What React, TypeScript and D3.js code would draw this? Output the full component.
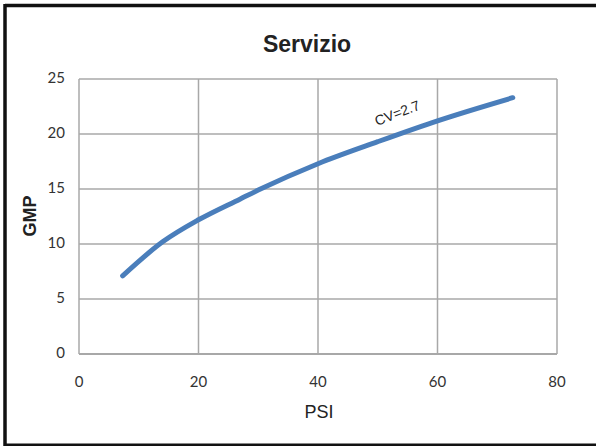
import React from "react";
import * as d3 from "d3";

const psi = [7.3, 14, 20, 27, 30, 40, 50, 60, 72.6];
const gmp = [7.1, 10.2, 12.2, 14.1, 14.9, 17.3, 19.3, 21.2, 23.3];
const xTicks = [0, 20, 40, 60, 80];
const yTicks = [0, 5, 10, 15, 20, 25];
const title = "Servizio";
const xLabel = "PSI";
const yLabel = "GMP";
const curveLabel = "CV=2.7";

export default function App() {
  const W = 596, H = 446;
  const x = d3.scaleLinear().domain([0, 80]).range([79, 557]);
  const y = d3.scaleLinear().domain([0, 25]).range([354, 79]);
  const pts = psi.map((p, i) => [p, gmp[i]] as [number, number]);
  const line = d3
    .line<[number, number]>()
    .x((d) => x(d[0]))
    .y((d) => y(d[1]))
    .curve(d3.curveMonotoneX);
  const tickFont = "Lato, 'Open Sans', sans-serif";
  return (
    <svg
      width={W}
      height={H}
      style={{ position: "absolute", left: 0, top: 0, background: "#fff" }}
    >
      <rect x={0} y={0} width={W} height={H} fill="#fff" />
      {/* frame */}
      <line x1={5} y1={5.5} x2={W} y2={5.5} stroke="#111" strokeWidth={3.5} />
      <line x1={5} y1={4} x2={5} y2={H} stroke="#111" strokeWidth={3.5} />
      <line x1={4} y1={445} x2={W} y2={445} stroke="#111" strokeWidth={3} />
      {/* grid */}
      {xTicks.map((t) => (
        <line key={"gx" + t} x1={x(t)} x2={x(t)} y1={y(25)} y2={y(0)} stroke="#a8a8a8" strokeWidth={1.5} />
      ))}
      {yTicks.map((t) => (
        <line key={"gy" + t} x1={x(0)} x2={x(80)} y1={y(t)} y2={y(t)} stroke="#a8a8a8" strokeWidth={t === 0 ? 2 : 1.5} />
      ))}
      {/* tick labels */}
      {yTicks.map((t) => (
        <text key={"ty" + t} x={65} y={y(t) + 4} textAnchor="end" fontFamily={tickFont} fontSize={15} fill="#333">
          {t}
        </text>
      ))}
      {xTicks.map((t) => (
        <text key={"tx" + t} x={x(t)} y={387} textAnchor="middle" fontFamily={tickFont} fontSize={15} fill="#333">
          {t}
        </text>
      ))}
      {/* data line */}
      <path d={line(pts) || ""} fill="none" stroke="#4a7ebb" strokeWidth={5} strokeLinecap="round" strokeLinejoin="round" />
      {/* curve label */}
      <text
        x={0}
        y={0}
        transform={`translate(377,126) rotate(-21)`}
        fontFamily="'Liberation Sans', Arial, sans-serif"
        fontSize={14}
        fill="#222"
      >
        {curveLabel}
      </text>
      {/* title */}
      <text x={307} y={52} textAnchor="middle" fontFamily="'Liberation Sans', Arial, sans-serif" fontWeight="bold" fontSize={23} fill="#222">
        {title}
      </text>
      <text x={319} y={418} textAnchor="middle" fontFamily="'Liberation Sans', Arial, sans-serif" fontSize={18} fill="#222">
        {xLabel}
      </text>
      <text
        transform={`translate(36,216) rotate(-90)`}
        textAnchor="middle"
        fontFamily="'Liberation Sans', Arial, sans-serif"
        fontWeight="bold"
        fontSize={18}
        fill="#222"
      >
        {yLabel}
      </text>
    </svg>
  );
}
